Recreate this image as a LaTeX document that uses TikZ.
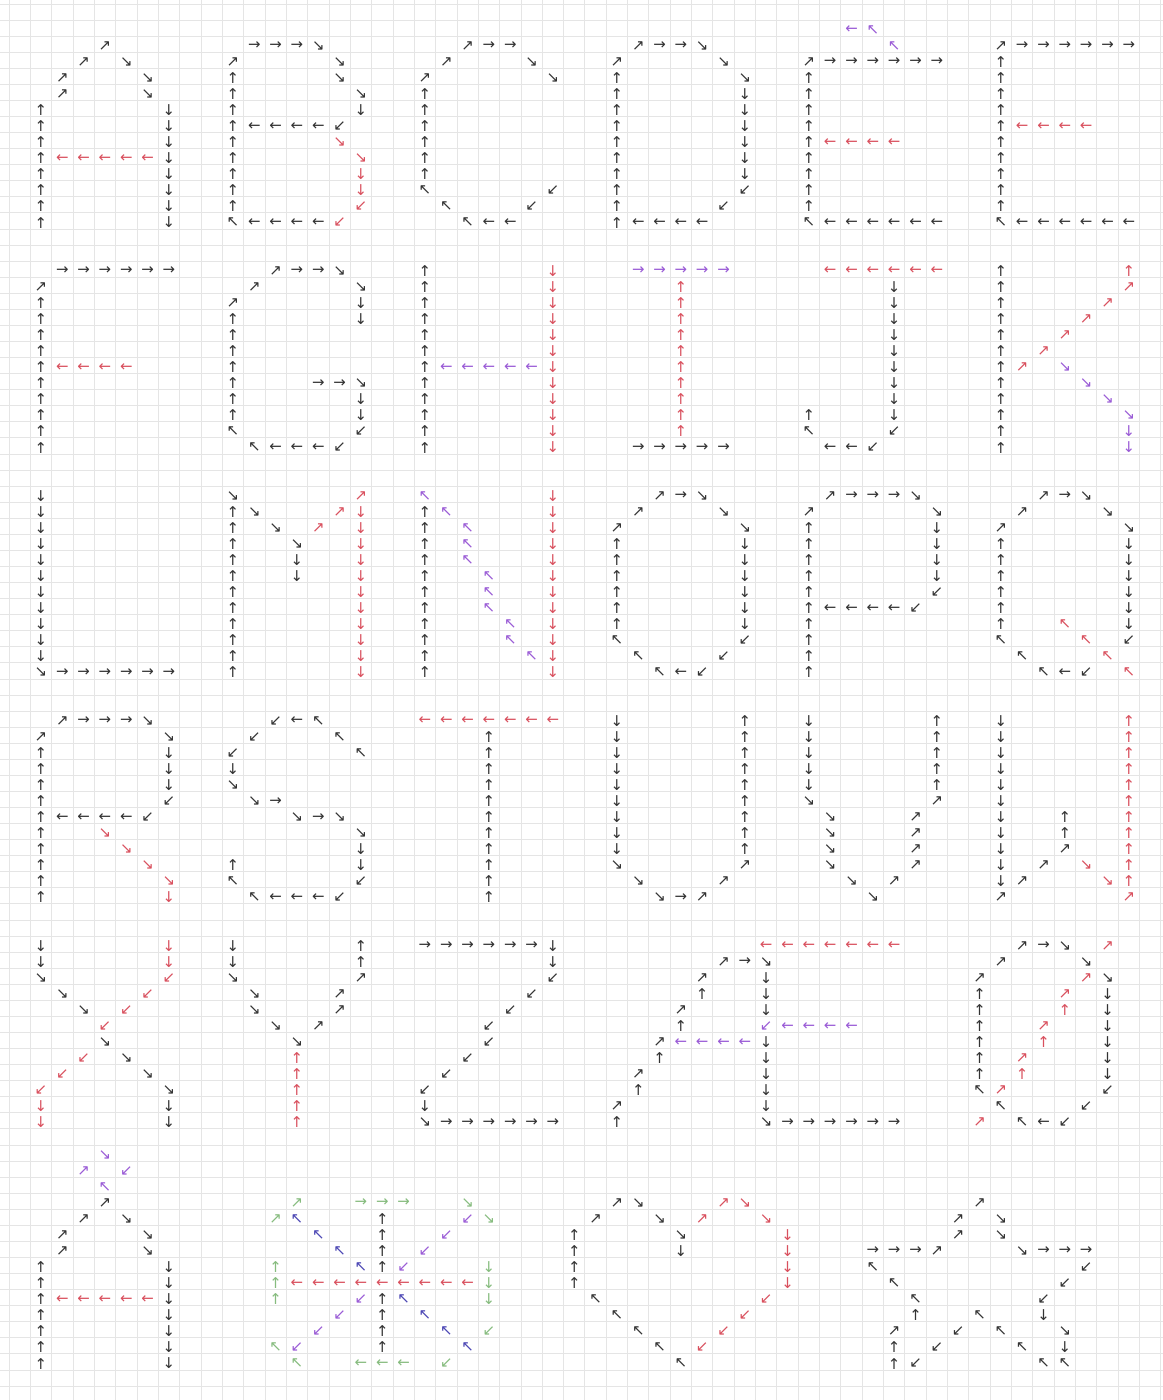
\documentclass[tikz,border=0pt]{standalone}
\usepackage{fontspec}
\usepackage{xcolor}
\usepackage{tikz}
\newfontfamily\arrowfont{DejaVu Sans}
\definecolor{arrowink}{HTML}{333333}
\definecolor{arrowred}{HTML}{D9505E}
\definecolor{arrowpurple}{HTML}{9A5BD6}
\definecolor{arrowblue}{HTML}{4B46B4}
\definecolor{arrowgreen}{HTML}{86BC7E}
\tikzset{
  cellline/.style={draw=black!10, line width=0.5pt},
  glyph/.style={inner sep=0pt, font=\arrowfont\fontsize{8.5}{9}\selectfont, text=arrowink},
  ink/.style={},
  rd/.style={text=arrowred},
  pu/.style={text=arrowpurple},
  bl/.style={text=arrowblue},
  gr/.style={text=arrowgreen},
}
\newcommand\ltarr[4][ink]{\node[glyph,#1] (g-#3-#4) at (#3+.5,#4+.6) {#2};}
\newcommand\ltrow[5][ink]{\foreach \cc in {#3,...,#4} {\ltarr[#1]{#2}{\cc}{#5}}}
\newcommand\ltcol[5][ink]{\foreach \rr in {#4,...,#5} {\ltarr[#1]{#2}{#3}{\rr}}}

\begin{document}
\begin{tikzpicture}[x=0.4266cm, y=-0.3214cm]
\useasboundingbox (-0.422,-0.249) rectangle (54.10,86.87);
\fill[white] (-0.422,-0.249) rectangle (54.10,86.87);
\clip (-0.422,-0.249) rectangle (54.10,86.87);
\foreach \i in {0,...,54} \draw[cellline] (\i,-1) -- (\i,88);
\foreach \j in {0,...,86} \draw[cellline] (-1,\j) -- (55,\j);

\ltarr{↗}{4}{2}
\ltarr{↗}{3}{3} \ltarr{↘}{5}{3}
\ltarr{↗}{2}{4} \ltarr{↘}{6}{4}
\ltarr{↗}{2}{5} \ltarr{↘}{6}{5}
\ltcol{↑}{1}{6}{13}
\ltcol{↓}{7}{6}{13}
\ltrow[rd]{←}{2}{6}{9}

\ltrow{→}{11}{13}{2} \ltarr{↘}{14}{2}
\ltarr{↗}{10}{3} \ltarr{↘}{15}{3}
\ltcol{↑}{10}{4}{12}
\ltarr{↘}{15}{4}
\ltarr{↘}{16}{5}
\ltarr{↓}{16}{6}
\ltrow{←}{11}{14}{7} \ltarr{↙}{15}{7}
\ltarr[rd]{↘}{15}{8}
\ltarr[rd]{↘}{16}{9}
\ltcol[rd]{↓}{16}{10}{11}
\ltarr[rd]{↙}{16}{12}
\ltarr{↖}{10}{13} \ltrow{←}{11}{14}{13} \ltarr[rd]{↙}{15}{13}

\ltarr{↗}{21}{2} \ltrow{→}{22}{23}{2}
\ltarr{↗}{20}{3} \ltarr{↘}{24}{3}
\ltarr{↗}{19}{4} \ltarr{↘}{25}{4}
\ltcol{↑}{19}{5}{10}
\ltarr{↖}{19}{11} \ltarr{↙}{25}{11}
\ltarr{↖}{20}{12} \ltarr{↙}{24}{12}
\ltarr{↖}{21}{13} \ltrow{←}{22}{23}{13}

\ltarr{↗}{29}{2} \ltrow{→}{30}{31}{2} \ltarr{↘}{32}{2}
\ltarr{↗}{28}{3} \ltarr{↘}{33}{3}
\ltcol{↑}{28}{4}{13}
\ltarr{↘}{34}{4}
\ltcol{↓}{34}{5}{10}
\ltarr{↙}{34}{11}
\ltarr{↙}{33}{12}
\ltrow{←}{29}{32}{13}

\ltarr[pu]{←}{39}{1} \ltarr[pu]{↖}{40}{1}
\ltarr[pu]{↖}{41}{2}
\ltarr{↗}{37}{3} \ltrow{→}{38}{43}{3}
\ltcol{↑}{37}{4}{12}
\ltrow[rd]{←}{38}{41}{8}
\ltarr{↖}{37}{13} \ltrow{←}{38}{43}{13}

\ltarr{↗}{46}{2} \ltrow{→}{47}{52}{2}
\ltcol{↑}{46}{3}{12}
\ltrow[rd]{←}{47}{50}{7}
\ltarr{↖}{46}{13} \ltrow{←}{47}{52}{13}

\ltrow{→}{2}{7}{16}
\ltarr{↗}{1}{17}
\ltcol{↑}{1}{18}{27}
\ltrow[rd]{←}{2}{5}{22}

\ltarr{↗}{12}{16} \ltrow{→}{13}{14}{16} \ltarr{↘}{15}{16}
\ltarr{↗}{11}{17} \ltarr{↘}{16}{17}
\ltarr{↗}{10}{18}
\ltcol{↑}{10}{19}{25}
\ltcol{↓}{16}{18}{19}
\ltrow{→}{14}{15}{23} \ltarr{↘}{16}{23}
\ltcol{↓}{16}{24}{25}
\ltarr{↖}{10}{26} \ltarr{↙}{16}{26}
\ltarr{↖}{11}{27} \ltrow{←}{12}{14}{27} \ltarr{↙}{15}{27}

\ltcol{↑}{19}{16}{27}
\ltcol[rd]{↓}{25}{16}{27}
\ltrow[pu]{←}{20}{24}{22}

\ltrow[pu]{→}{29}{33}{16}
\ltcol[rd]{↑}{31}{17}{26}
\ltrow{→}{29}{33}{27}

\ltrow[rd]{←}{38}{43}{16}
\ltcol{↓}{41}{17}{25}
\ltarr{↙}{41}{26}
\ltarr{↑}{37}{25}
\ltarr{↖}{37}{26}
\ltrow{←}{38}{39}{27} \ltarr{↙}{40}{27}

\ltcol{↑}{46}{16}{27}
\ltarr[rd]{↑}{52}{16}
\ltarr[rd]{↗}{52}{17}
\ltarr[rd]{↗}{51}{18}
\ltarr[rd]{↗}{50}{19}
\ltarr[rd]{↗}{49}{20}
\ltarr[rd]{↗}{48}{21}
\ltarr[rd]{↗}{47}{22}
\ltarr[pu]{↘}{49}{22}
\ltarr[pu]{↘}{50}{23}
\ltarr[pu]{↘}{51}{24}
\ltarr[pu]{↘}{52}{25}
\ltcol[pu]{↓}{52}{26}{27}

\ltcol{↓}{1}{30}{40} \ltarr{↘}{1}{41} \ltrow{→}{2}{7}{41}

\ltarr{↘}{10}{30}
\ltcol{↑}{10}{31}{41}
\ltarr{↘}{11}{31} \ltarr{↘}{12}{32} \ltarr{↘}{13}{33}
\ltcol{↓}{13}{34}{35}
\ltarr[rd]{↗}{16}{30} \ltarr[rd]{↗}{15}{31} \ltarr[rd]{↗}{14}{32}
\ltcol[rd]{↓}{16}{31}{41}

\ltarr[pu]{↖}{19}{30}
\ltcol{↑}{19}{31}{41}
\ltarr[pu]{↖}{20}{31}
\ltcol[pu]{↖}{21}{32}{34}
\ltcol[pu]{↖}{22}{35}{37}
\ltcol[pu]{↖}{23}{38}{39}
\ltarr[pu]{↖}{24}{40}
\ltcol[rd]{↓}{25}{30}{41}

\ltarr{↗}{30}{30} \ltarr{→}{31}{30} \ltarr{↘}{32}{30}
\ltarr{↗}{29}{31} \ltarr{↘}{33}{31}
\ltarr{↗}{28}{32} \ltarr{↘}{34}{32}
\ltcol{↑}{28}{33}{38} \ltcol{↓}{34}{33}{38}
\ltarr{↖}{28}{39} \ltarr{↙}{34}{39}
\ltarr{↖}{29}{40} \ltarr{↙}{33}{40}
\ltarr{↖}{30}{41} \ltarr{←}{31}{41} \ltarr{↙}{32}{41}

\ltarr{↗}{38}{30} \ltrow{→}{39}{41}{30} \ltarr{↘}{42}{30}
\ltarr{↗}{37}{31} \ltarr{↘}{43}{31}
\ltcol{↑}{37}{32}{41}
\ltcol{↓}{43}{32}{35}
\ltarr{↙}{43}{36}
\ltrow{←}{38}{41}{37} \ltarr{↙}{42}{37}

\ltarr{↗}{48}{30} \ltarr{→}{49}{30} \ltarr{↘}{50}{30}
\ltarr{↗}{47}{31} \ltarr{↘}{51}{31}
\ltarr{↗}{46}{32} \ltarr{↘}{52}{32}
\ltcol{↑}{46}{33}{38} \ltcol{↓}{52}{33}{38}
\ltarr{↖}{46}{39} \ltarr{↙}{52}{39}
\ltarr{↖}{47}{40}
\ltarr{↖}{48}{41} \ltarr{←}{49}{41} \ltarr{↙}{50}{41}
\ltarr[rd]{↖}{49}{38} \ltarr[rd]{↖}{50}{39} \ltarr[rd]{↖}{51}{40} \ltarr[rd]{↖}{52}{41}

\ltarr{↗}{2}{44} \ltrow{→}{3}{5}{44} \ltarr{↘}{6}{44}
\ltarr{↗}{1}{45} \ltarr{↘}{7}{45}
\ltcol{↑}{1}{46}{55}
\ltcol{↓}{7}{46}{48}
\ltarr{↙}{7}{49}
\ltrow{←}{2}{5}{50} \ltarr{↙}{6}{50}
\ltarr[rd]{↘}{4}{51} \ltarr[rd]{↘}{5}{52} \ltarr[rd]{↘}{6}{53} \ltarr[rd]{↘}{7}{54} \ltarr[rd]{↓}{7}{55}

\ltarr{↙}{12}{44} \ltarr{←}{13}{44} \ltarr{↖}{14}{44}
\ltarr{↙}{11}{45} \ltarr{↖}{15}{45}
\ltarr{↙}{10}{46} \ltarr{↖}{16}{46}
\ltarr{↓}{10}{47}
\ltarr{↘}{10}{48}
\ltarr{↘}{11}{49} \ltarr{→}{12}{49}
\ltarr{↘}{13}{50} \ltarr{→}{14}{50} \ltarr{↘}{15}{50}
\ltarr{↘}{16}{51}
\ltarr{↓}{16}{52}
\ltarr{↑}{10}{53} \ltarr{↓}{16}{53}
\ltarr{↖}{10}{54} \ltarr{↙}{16}{54}
\ltarr{↖}{11}{55} \ltrow{←}{12}{14}{55} \ltarr{↙}{15}{55}

\ltrow[rd]{←}{19}{25}{44}
\ltcol{↑}{22}{45}{55}

\ltcol{↓}{28}{44}{52} \ltcol{↑}{34}{44}{52}
\ltarr{↘}{28}{53} \ltarr{↗}{34}{53}
\ltarr{↘}{29}{54} \ltarr{↗}{33}{54}
\ltarr{↘}{30}{55} \ltarr{→}{31}{55} \ltarr{↗}{32}{55}

\ltcol{↓}{37}{44}{48} \ltcol{↑}{43}{44}{48}
\ltarr{↘}{37}{49} \ltarr{↗}{43}{49}
\ltcol{↘}{38}{50}{53} \ltcol{↗}{42}{50}{53}
\ltarr{↘}{39}{54} \ltarr{↗}{41}{54}
\ltarr{↘}{40}{55}

\ltcol{↓}{46}{44}{54} \ltarr{↗}{46}{55}
\ltcol[rd]{↑}{52}{44}{54} \ltarr[rd]{↗}{52}{55}
\ltcol{↑}{49}{50}{51} \ltarr{↗}{49}{52}
\ltarr{↗}{48}{53} \ltarr{↗}{47}{54}
\ltarr[rd]{↘}{50}{53} \ltarr[rd]{↘}{51}{54}

\ltcol{↓}{1}{58}{59} \ltarr{↘}{1}{60} \ltarr{↘}{2}{61} \ltarr{↘}{3}{62}
\ltarr{↘}{4}{64} \ltarr{↘}{5}{65} \ltarr{↘}{6}{66} \ltarr{↘}{7}{67}
\ltcol{↓}{7}{68}{69}
\ltcol[rd]{↓}{7}{58}{59} \ltarr[rd]{↙}{7}{60} \ltarr[rd]{↙}{6}{61} \ltarr[rd]{↙}{5}{62}
\ltarr[rd]{↙}{4}{63} \ltarr[rd]{↙}{3}{65} \ltarr[rd]{↙}{2}{66} \ltarr[rd]{↙}{1}{67}
\ltcol[rd]{↓}{1}{68}{69}

\ltcol{↓}{10}{58}{59} \ltcol{↑}{16}{58}{59}
\ltarr{↘}{10}{60} \ltarr{↗}{16}{60}
\ltcol{↘}{11}{61}{62} \ltcol{↗}{15}{61}{62}
\ltarr{↘}{12}{63} \ltarr{↗}{14}{63}
\ltarr{↘}{13}{64}
\ltcol[rd]{↑}{13}{65}{69}

\ltrow{→}{19}{24}{58} \ltcol{↓}{25}{58}{59}
\ltarr{↙}{25}{60} \ltarr{↙}{24}{61} \ltarr{↙}{23}{62}
\ltcol{↙}{22}{63}{64} \ltarr{↙}{21}{65} \ltarr{↙}{20}{66} \ltarr{↙}{19}{67}
\ltarr{↓}{19}{68}
\ltarr{↘}{19}{69} \ltrow{→}{20}{25}{69}

\ltrow[rd]{←}{35}{41}{58}
\ltarr{↗}{33}{59} \ltarr{→}{34}{59} \ltarr{↘}{35}{59}
\ltarr{↗}{32}{60} \ltarr{↑}{32}{61}
\ltarr{↗}{31}{62} \ltarr{↑}{31}{63}
\ltarr{↗}{30}{64} \ltarr{↑}{30}{65}
\ltarr{↗}{29}{66} \ltarr{↑}{29}{67}
\ltarr{↗}{28}{68} \ltarr{↑}{28}{69}
\ltcol{↓}{35}{60}{62} \ltarr[pu]{↙}{35}{63} \ltcol{↓}{35}{64}{68}
\ltrow[pu]{←}{36}{39}{63}
\ltrow[pu]{←}{31}{34}{64}
\ltarr{↘}{35}{69} \ltrow{→}{36}{41}{69}

\ltarr{↗}{47}{58} \ltarr{→}{48}{58} \ltarr{↘}{49}{58} \ltarr[rd]{↗}{51}{58}
\ltarr{↗}{46}{59} \ltarr{↘}{50}{59}
\ltarr{↗}{45}{60} \ltarr[rd]{↗}{50}{60} \ltarr{↘}{51}{60}
\ltcol{↑}{45}{61}{66} \ltarr{↖}{45}{67}
\ltcol{↓}{51}{61}{66} \ltarr{↙}{51}{67}
\ltarr[rd]{↗}{49}{61} \ltarr[rd]{↑}{49}{62}
\ltarr[rd]{↗}{48}{63} \ltarr[rd]{↑}{48}{64}
\ltarr[rd]{↗}{47}{65} \ltarr[rd]{↑}{47}{66}
\ltarr[rd]{↗}{46}{67}
\ltarr{↖}{46}{68} \ltarr{↙}{50}{68}
\ltarr[rd]{↗}{45}{69} \ltarr{↖}{47}{69} \ltarr{←}{48}{69} \ltarr{↙}{49}{69}

\ltarr[pu]{↘}{4}{71}
\ltarr[pu]{↗}{3}{72} \ltarr[pu]{↙}{5}{72}
\ltarr[pu]{↖}{4}{73}
\ltarr{↗}{4}{74}
\ltarr{↗}{3}{75} \ltarr{↘}{5}{75}
\ltcol{↗}{2}{76}{77} \ltcol{↘}{6}{76}{77}
\ltcol{↑}{1}{78}{84} \ltcol{↓}{7}{78}{84}
\ltrow[rd]{←}{2}{6}{80}

\ltarr[gr]{↗}{13}{74} \ltrow[gr]{→}{16}{18}{74} \ltarr[gr]{↘}{21}{74}
\ltarr[gr]{↗}{12}{75} \ltarr[gr]{↘}{22}{75}
\ltcol[gr]{↑}{12}{78}{80} \ltcol[gr]{↓}{22}{78}{80}
\ltarr[gr]{↙}{22}{82}
\ltarr[gr]{↖}{12}{83}
\ltarr[gr]{↖}{13}{84} \ltrow[gr]{←}{16}{18}{84} \ltarr[gr]{↙}{20}{84}
\ltcol{↑}{17}{75}{78} \ltcol{↑}{17}{80}{83}
\ltrow[rd]{←}{13}{21}{79}
\foreach \cc/\rr in {13/75,14/76,15/77,16/78,18/80,19/81,20/82,21/83} {\ltarr[bl]{↖}{\cc}{\rr}}
\foreach \cc/\rr in {21/75,20/76,19/77,18/78,16/80,15/81,14/82,13/83} {\ltarr[pu]{↙}{\cc}{\rr}}

\ltarr{↗}{28}{74} \ltarr{↘}{29}{74} \ltarr[rd]{↗}{33}{74} \ltarr[rd]{↘}{34}{74}
\ltarr{↗}{27}{75} \ltarr{↘}{30}{75} \ltarr[rd]{↗}{32}{75} \ltarr[rd]{↘}{35}{75}
\ltcol{↑}{26}{76}{79} \ltarr{↘}{31}{76} \ltarr{↓}{31}{77}
\ltcol[rd]{↓}{36}{76}{79}
\foreach \cc/\rr in {27/80,28/81,29/82,30/83,31/84} {\ltarr{↖}{\cc}{\rr}}
\foreach \cc/\rr in {35/80,34/81,33/82,32/83} {\ltarr[rd]{↙}{\cc}{\rr}}

\ltarr{↗}{45}{74}
\ltcol{↗}{44}{75}{76} \ltcol{↘}{46}{75}{76}
\ltrow{→}{40}{42}{77} \ltarr{↗}{43}{77} \ltarr{↘}{47}{77} \ltrow{→}{48}{50}{77}
\ltarr{↖}{40}{78} \ltarr{↙}{50}{78}
\ltarr{↖}{41}{79} \ltarr{↙}{49}{79}
\ltarr{↖}{42}{80} \ltarr{↙}{48}{80}
\ltarr{↑}{42}{81} \ltarr{↖}{45}{81} \ltarr{↓}{48}{81}
\ltarr{↗}{41}{82} \ltarr{↙}{44}{82} \ltarr{↖}{46}{82} \ltarr{↘}{49}{82}
\ltarr{↑}{41}{83} \ltarr{↙}{43}{83} \ltarr{↖}{47}{83} \ltarr{↓}{49}{83}
\ltarr{↑}{41}{84} \ltarr{↙}{42}{84} \ltarr{↖}{48}{84} \ltarr{↖}{49}{84}
\end{tikzpicture}
\end{document}
